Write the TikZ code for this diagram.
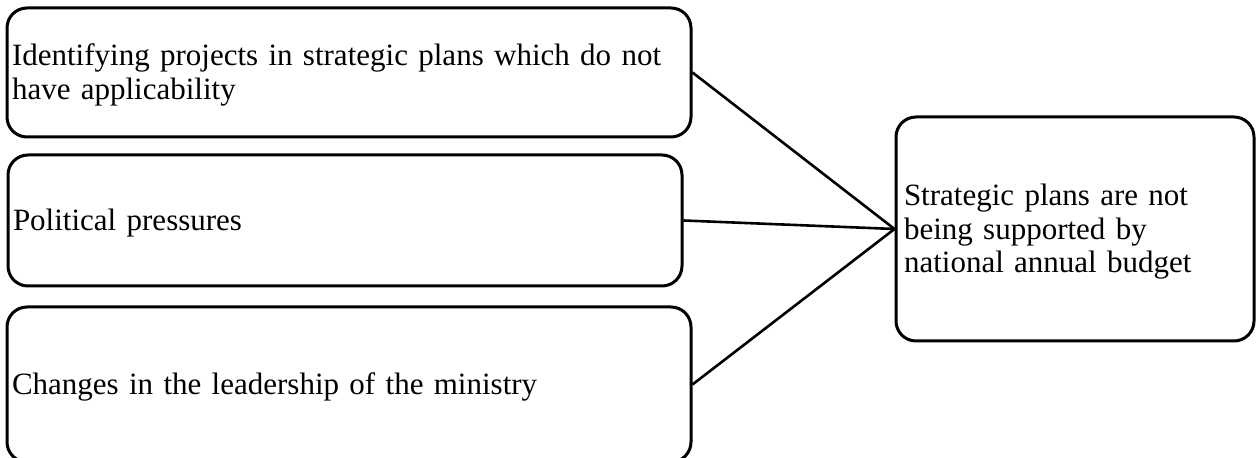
\documentclass[tikz,border=0pt]{standalone}
\usepackage{fontspec}
\setmainfont{Liberation Serif}
\begin{document}
\begin{tikzpicture}[x=0.5pt,y=-0.5pt,
  box/.style={draw=black, line width=1.5pt, rounded corners=10pt, rectangle,
    inner ysep=0pt, align=left,
    font=\fontsize{15.5pt}{16.75pt}\selectfont,
    execute at begin node={\rule{0pt}{13.6pt}}},
  link/.style={draw=black, line width=1.3pt}]
  \useasboundingbox (0,0) rectangle (1260,458);
  \clip (0,0) rectangle (1260,458);
  \node[box, inner xsep=2.5pt, minimum width=342pt, minimum height=64.5pt,
        text width=337pt] (b1) at (349,72.5)
    {Identifying projects in strategic plans which do not\\have applicability};
  \node[box, inner xsep=2.5pt, minimum width=337pt, minimum height=65.5pt,
        text width=332pt] (b2) at (345,220.5)
    {Political pressures};
  \node[box, inner xsep=2.5pt, minimum width=342pt, minimum height=77.5pt,
        text width=337pt] (b3) at (349,384.5)
    {Changes in the leadership of the ministry};
  \node[box, inner xsep=4pt, minimum width=179pt, minimum height=112pt,
        text width=171pt] (res) at (1075,229)
    {Strategic plans are not\\being supported by\\national annual budget};
  \draw[link] (b1.east) -- (res.west);
  \draw[link] (b2.east) -- (res.west);
  \draw[link] (b3.east) -- (res.west);
\end{tikzpicture}
\end{document}
